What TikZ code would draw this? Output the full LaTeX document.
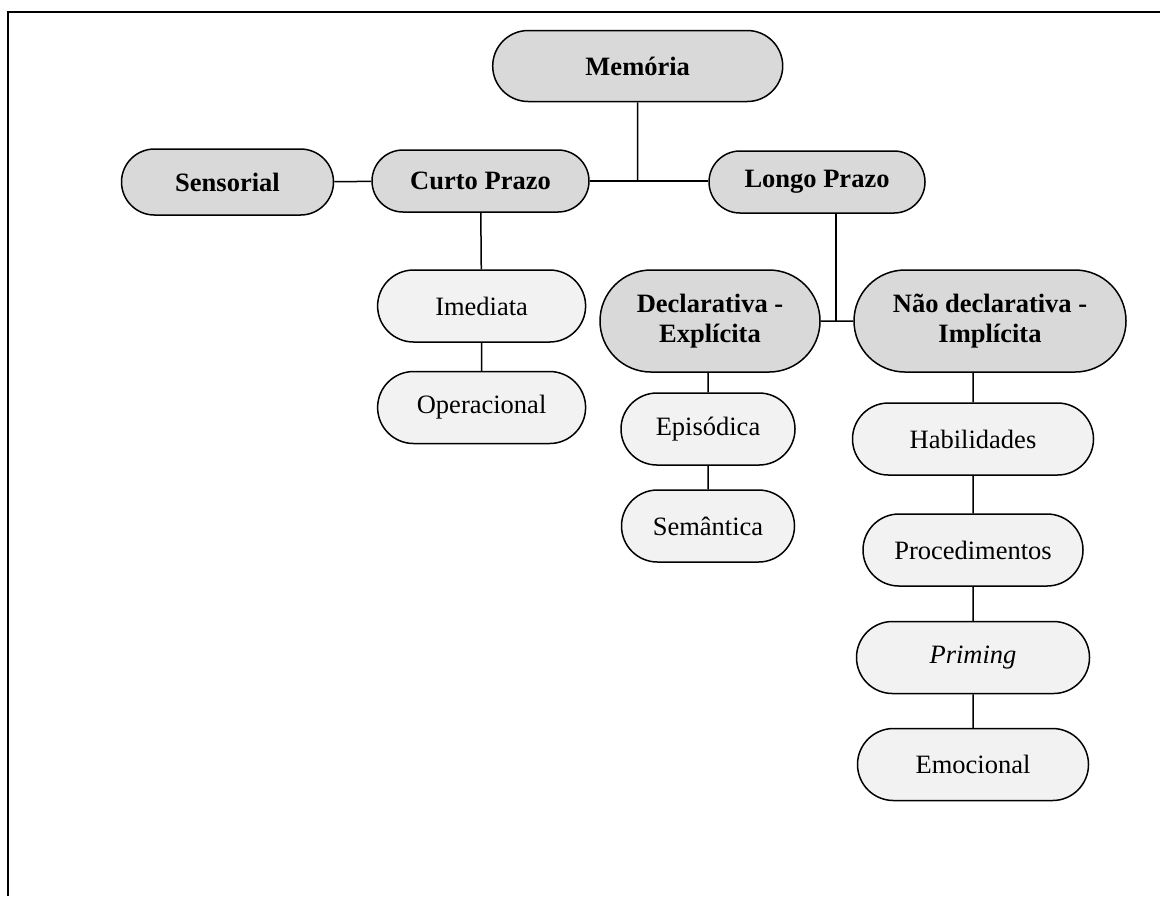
\documentclass[tikz,border=0pt]{standalone}
\usepackage{fontspec}
\setmainfont{Liberation Serif}
\usetikzlibrary{shapes.misc}
\definecolor{boxdark}{gray}{0.85}
\definecolor{boxlight}{gray}{0.95}
\tikzset{
  pill/.style={rounded rectangle, draw, line width=0.75pt, inner sep=0pt, minimum height=36pt},
  upper/.style={pill, fill=boxdark, font=\bfseries\fontsize{13.25}{15}\selectfont, align=center},
  lower/.style={pill, fill=boxlight, font=\fontsize{13.25}{15}\selectfont},
}
\begin{document}
\begin{tikzpicture}[x=0.5pt, y=-0.5pt, line width=0.75pt]
   \useasboundingbox (0,0) rectangle (1160,896);
   \draw[line width=1pt] (1160,11.7) -- (8.4,11.7) -- (8.4,896);
   \node[upper, minimum width=145pt, minimum height=35.5pt] (mem) at (637.7,66) {Memória};
   \node[upper, minimum width=106pt, minimum height=33pt] (sens) at (227.5,182) {Sensorial};
   \node[upper, minimum width=108.5pt, minimum height=31pt] (curto) at (480.5,181) {Curto Prazo};
   \node[upper, minimum width=108pt, minimum height=31pt] (longo) at (817,182) {Longo Prazo};
   \node[lower, minimum width=104pt] (imed) at (481.6,306) {Imediata};
   \node[lower, minimum width=104pt] (oper) at (481.6,407.5) {Operacional};
   \node[upper, minimum width=110pt, minimum height=51pt] (decl) at (710,321) {Declarativa -\\Explícita};
   \node[upper, minimum width=136pt, minimum height=51pt] (nao) at (990,321) {Não declarativa -\\Implícita};
   \node[lower, minimum width=87pt] (epis) at (708,429) {Episódica};
   \node[lower, minimum width=86.5pt] (sem) at (708,526) {Semântica};
   \node[lower, minimum width=120.5pt] (hab) at (973,439) {Habilidades};
   \node[lower, minimum width=110pt] (proc) at (973,550) {Procedimentos};
   \node[lower, minimum width=116.5pt] (prim) at (973,657.5) {\textit{Priming}};
   \node[lower, minimum width=115.5pt] (emo) at (973,764.5) {Emocional};
   \coordinate (j) at (836,321);
   \draw (sens) -- (curto);
   \draw (curto.east) -- (curto.east -| longo.west);
   \draw (mem) -- (mem |- curto.east);
   \draw (curto) -- (imed);
   \draw (imed) -- (oper);
   \draw (j |- longo.south) -- (j);
   \draw (decl) -- (nao);
   \draw (decl.south -| epis) -- (epis);
   \draw (epis) -- (sem);
   \draw (nao.south -| hab) -- (hab);
   \draw (hab) -- (proc);
   \draw (proc) -- (prim);
   \draw (prim) -- (emo);
\end{tikzpicture}
\end{document}
